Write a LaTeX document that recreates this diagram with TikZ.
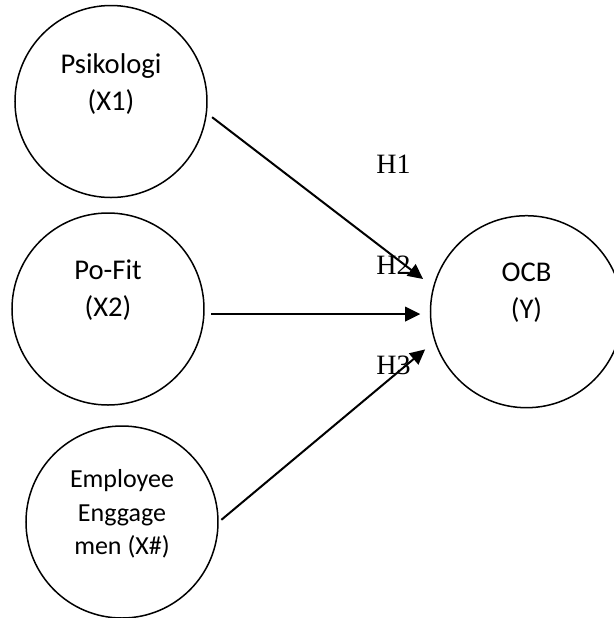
\documentclass[tikz,border=0pt]{standalone}
\usepackage{fontspec}
\setmainfont{Carlito}
\newfontfamily\hypfont{Liberation Serif}
\usetikzlibrary{arrows.meta}

\begin{document}
\begin{tikzpicture}[
            x=0.5pt, y=-0.5pt,
            v/.style={circle, draw, line width=0.75pt, minimum size=96pt, inner sep=0pt},
            lbl/.style={align=center, inner sep=0pt, font={\fontsize{14.3pt}{18.5pt}\selectfont}},
            hyp/.style={anchor=base west, inner sep=0pt, font={\hypfont\fontsize{14pt}{16pt}\selectfont}},
            arr/.style={-{Triangle[length=7.5pt, width=7.2pt]}, line width=1pt}
        ]
        \useasboundingbox (0,0) rectangle (614,618);
        \clip (0,0) rectangle (614,618);
        \node[v] (x1) at (111,101.5) {};  % variables, drawn as circles
        \node[v] (x2) at (108,309) {};
        \node[v] (x3) at (122,522) {};
        \node[v] (y) at (526.5,311.7) {};
        % texts sit above the centre of each circle
        \node[lbl] (x1t) at ([yshift=8.85pt]x1.center) {Psikologi\\(X1)};
        \node[lbl] (x2t) at ([yshift=9.6pt]x2.center) {Po-Fit\\(X2)};
        \node[lbl, font={\fontsize{13pt}{16.7pt}\selectfont}] (x3t) at ([yshift=4pt]x3.center) {Employee\\Enggage\\men (X\#)};
        \node[lbl] (yt) at ([yshift=9.5pt]y.center) {OCB\\(Y)};
        % hypotheses
        \node[hyp] (h1) at (376,173) {H1};
        \node[hyp] (h2) at (376,274) {H2};
        \node[hyp] (h3) at (376,374) {H3};
        % paths
        \draw[arr, shorten <=3.2pt, shorten >=6.3pt] (x1.-7) -- (y.165);
        \draw[arr, shorten <=3.2pt, shorten >=4.75pt] (x2.-3) -- (x2.-3 -| y.west);
        \draw[arr, shorten <=1.7pt, shorten >=6.1pt] (x3.east) -- (y.198);
    \end{tikzpicture}
\end{document}
